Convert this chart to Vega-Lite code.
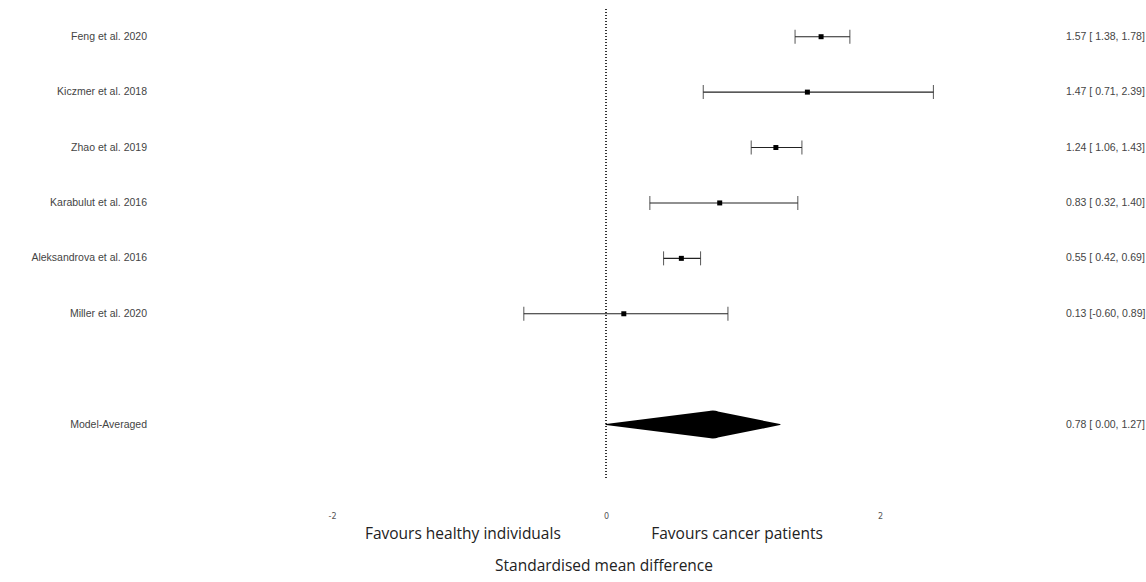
{
  "$schema": "https://vega.github.io/schema/vega-lite/v6.json",
  "padding": {"left": 0, "top": 8, "right": 0, "bottom": 0},
  "background": "white",
  "spacing": 0,
  "config": {"view": {"stroke": null}, "concat": {"spacing": 0}},
  "data": {"values": [
    {"study": "Feng et al. 2020", "row": 1, "est": 1.57, "lower": 1.38, "upper": 1.78, "label": "1.57 [ 1.38, 1.78]", "type": "study"},
    {"study": "Kiczmer et al. 2018", "row": 2, "est": 1.47, "lower": 0.71, "upper": 2.39, "label": "1.47 [ 0.71, 2.39]", "type": "study"},
    {"study": "Zhao et al. 2019", "row": 3, "est": 1.24, "lower": 1.06, "upper": 1.43, "label": "1.24 [ 1.06, 1.43]", "type": "study"},
    {"study": "Karabulut et al. 2016", "row": 4, "est": 0.83, "lower": 0.32, "upper": 1.40, "label": "0.83 [ 0.32, 1.40]", "type": "study"},
    {"study": "Aleksandrova et al. 2016", "row": 5, "est": 0.55, "lower": 0.42, "upper": 0.69, "label": "0.55 [ 0.42, 0.69]", "type": "study"},
    {"study": "Miller et al. 2020", "row": 6, "est": 0.13, "lower": -0.60, "upper": 0.89, "label": "0.13 [-0.60, 0.89]", "type": "study"},
    {"study": "Model-Averaged", "row": 8, "est": 0.78, "lower": 0.00, "upper": 1.27, "label": "0.78 [ 0.00, 1.27]", "type": "model"}
  ]},
  "hconcat": [
    {
      "width": 147,
      "height": 471,
      "mark": {"type": "text", "align": "right", "baseline": "middle", "font": "Liberation Sans", "fontSize": 10.5, "color": "#444"},
      "encoding": {
        "x": {"value": "width"},
        "y": {"field": "row", "type": "quantitative", "scale": {"domain": [0.5, 9], "reverse": true, "nice": false, "zero": false}, "axis": null},
        "text": {"field": "study"}
      }
    },
    {
      "width": 913,
      "height": 471,
      "encoding": {
        "y": {"field": "row", "type": "quantitative", "scale": {"domain": [0.5, 9], "reverse": true, "nice": false, "zero": false}, "axis": null}
      },
      "layer": [
        {
          "mark": {"type": "rule", "color": "#333", "strokeWidth": 1, "strokeDash": [1, 2]},
          "encoding": {
            "x": {"datum": 0, "type": "quantitative", "scale": {"domain": [-3.3504, 3.3139], "nice": false, "zero": false},
              "axis": {"values": [-2, 0, 2], "labelExpr": "'' + datum.value", "domain": false, "ticks": false, "grid": false, "labelFont": "DejaVu Sans", "labelFontSize": 8, "labelColor": "#555", "labelPadding": 32,
                "title": "Standardised mean difference", "titleFont": "Open Sans", "titleFontSize": 15.5, "titleFontWeight": "normal", "titleColor": "#222", "titlePadding": 38}},
            "y": {"value": 0},
            "y2": {"value": "height"}
          }
        },
        {
          "transform": [{"filter": "datum.type === 'study'"}],
          "mark": {"type": "rule", "color": "#222", "strokeWidth": 1.1},
          "encoding": {
            "x": {"field": "lower", "type": "quantitative"},
            "x2": {"field": "upper"}
          }
        },
        {
          "transform": [{"filter": "datum.type === 'study'"}],
          "mark": {"type": "tick", "orient": "vertical", "color": "#222", "size": 14, "thickness": 1.1},
          "encoding": {"x": {"field": "lower", "type": "quantitative"}}
        },
        {
          "transform": [{"filter": "datum.type === 'study'"}],
          "mark": {"type": "tick", "orient": "vertical", "color": "#222", "size": 14, "thickness": 1.1},
          "encoding": {"x": {"field": "upper", "type": "quantitative"}}
        },
        {
          "transform": [{"filter": "datum.type === 'study'"}],
          "mark": {"type": "point", "shape": "square", "filled": true, "color": "black", "size": 25, "opacity": 1},
          "encoding": {"x": {"field": "est", "type": "quantitative"}}
        },
        {
          "transform": [
            {"filter": "datum.type === 'model'"},
            {"fold": ["lower", "est", "upper"], "as": ["key", "value"]}
          ],
          "mark": {"type": "trail", "color": "black"},
          "encoding": {
            "x": {"field": "value", "type": "quantitative"},
            "order": {"field": "value", "type": "quantitative"},
            "size": {"condition": {"test": "datum.key === 'est'", "value": 28}, "value": 0}
          }
        },
        {
          "data": {"values": [{"pos": -0.33, "text": "Favours healthy individuals"}]},
          "mark": {"type": "text", "align": "right", "baseline": "middle", "font": "Open Sans", "fontSize": 15.5, "color": "#222", "dy": 54},
          "encoding": {
            "x": {"field": "pos", "type": "quantitative"},
            "y": {"value": "height"},
            "text": {"field": "text"}
          }
        },
        {
          "data": {"values": [{"pos": 0.33, "text": "Favours cancer patients"}]},
          "mark": {"type": "text", "align": "left", "baseline": "middle", "font": "Open Sans", "fontSize": 15.5, "color": "#222", "dy": 54},
          "encoding": {
            "x": {"field": "pos", "type": "quantitative"},
            "y": {"value": "height"},
            "text": {"field": "text"}
          }
        }
      ]
    },
    {
      "width": 86,
      "height": 471,
      "mark": {"type": "text", "align": "left", "baseline": "middle", "font": "Liberation Sans", "fontSize": 10.5, "color": "#444", "dx": 6},
      "encoding": {
        "x": {"value": 0},
        "y": {"field": "row", "type": "quantitative", "scale": {"domain": [0.5, 9], "reverse": true, "nice": false, "zero": false}, "axis": null},
        "text": {"field": "label"}
      }
    }
  ]
}
